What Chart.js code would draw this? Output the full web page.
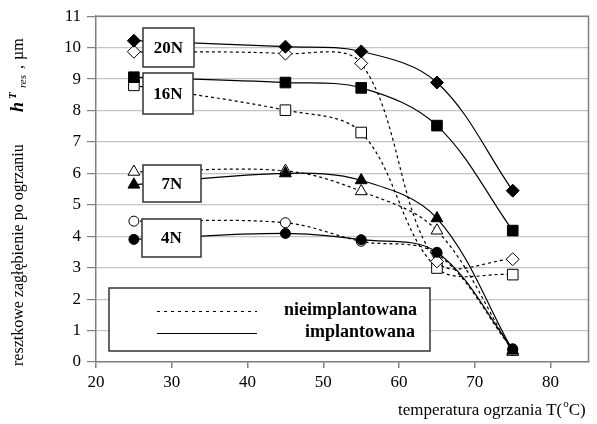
<!DOCTYPE html>
<html>
<head>
<meta charset="utf-8">
<script src="https://cdn.jsdelivr.net/npm/chart.js@4.4.1/dist/chart.umd.min.js"></script>
<style>
  html, body { margin: 0; padding: 0; background: #fff; }
  canvas { display: block; }
</style>
</head>
<body>
<canvas id="chart" width="597" height="424"></canvas>
<script>
// heating temperature, °C
const temperatures = [25, 45, 55, 65, 75];
const xTickValues = [20, 30, 40, 50, 60, 70, 80];
const yTickValues = [0, 1, 2, 3, 4, 5, 6, 7, 8, 9, 10, 11];

// residual depth after heating, µm — implanted samples (solid)
const impl20N = [10.22, 10.03, 9.88, 8.89, 5.45];
const impl16N = [9.06, 8.89, 8.72, 7.52, 4.18];
const impl7N = [5.64, 6.0, 5.78, 4.57, 0.36];
const impl4N = [3.9, 4.09, 3.89, 3.49, 0.42];

// non-implanted samples (dashed)
const nie20N = [9.87, 9.81, 9.5, 3.2, 3.27];
const nie16N = [8.8, 8.01, 7.3, 2.99, 2.78];
const nie7N = [6.05, 6.08, 5.43, 4.18, 0.32];
const nie4N = [4.48, 4.43, 3.84, 3.44, 0.38];

const loadLabels = ['20N', '16N', '7N', '4N'];
const legendLabels = ['nieimplantowana', 'implantowana'];

const SERIF = "'Liberation Serif', 'Times New Roman', serif";

const markers = {
  diamond: { pointStyle: 'rectRot', radius: 6.5 },
  square: { pointStyle: 'rect', radius: 7.5 },
  triangle: { pointStyle: 'triangle', radius: 6.8 },
  circle: { pointStyle: 'circle', radius: 5 }
};

function series(values, shape, implanted) {
  const m = markers[shape];
  return {
    data: temperatures.map((t, i) => ({ x: t, y: values[i] })),
    borderColor: '#000',
    borderWidth: 1.2,
    borderDash: implanted ? [] : [3, 3],
    tension: 0.35,
    pointStyle: m.pointStyle,
    pointRadius: m.radius,
    pointBorderWidth: 1,
    pointBorderColor: '#000',
    pointBackgroundColor: implanted ? '#000' : '#fff',
    fill: false
  };
}

// boxed load labels next to the first points
const labelBoxes = [
  { text: loadLabels[0], x: 143, y: 28, w: 51, h: 39 },
  { text: loadLabels[1], x: 143, y: 73, w: 50, h: 41 },
  { text: loadLabels[2], x: 143, y: 165, w: 58, h: 37 },
  { text: loadLabels[3], x: 142, y: 219, w: 59, h: 38 }
];

const decorations = {
  id: 'decorations',
  afterDatasetsDraw(chart) {
    const ctx = chart.ctx;
    const a = chart.chartArea;
    ctx.save();

    // frame around the plot
    ctx.strokeStyle = '#808080';
    ctx.lineWidth = 1.5;
    ctx.beginPath();
    ctx.moveTo(a.left, a.top);
    ctx.lineTo(a.right, a.top);
    ctx.lineTo(a.right, a.bottom);
    ctx.stroke();

    // label boxes
    ctx.font = 'bold 17px ' + SERIF;
    ctx.textAlign = 'center';
    ctx.textBaseline = 'middle';
    labelBoxes.forEach(b => {
      ctx.fillStyle = '#fff';
      ctx.fillRect(b.x, b.y, b.w, b.h);
      ctx.strokeStyle = '#333';
      ctx.lineWidth = 1.5;
      ctx.strokeRect(b.x, b.y, b.w, b.h);
      ctx.fillStyle = '#000';
      ctx.fillText(b.text, b.x + b.w / 2, b.y + b.h / 2 + 1);
    });

    // legend
    ctx.fillStyle = '#fff';
    ctx.fillRect(109, 288, 321, 63);
    ctx.strokeStyle = '#333';
    ctx.lineWidth = 1.5;
    ctx.strokeRect(109, 288, 321, 63);
    ctx.strokeStyle = '#000';
    ctx.lineWidth = 1.2;
    ctx.setLineDash([3, 4]);
    ctx.beginPath();
    ctx.moveTo(157, 311.5);
    ctx.lineTo(257, 311.5);
    ctx.stroke();
    ctx.setLineDash([]);
    ctx.beginPath();
    ctx.moveTo(157, 333.5);
    ctx.lineTo(257, 333.5);
    ctx.stroke();
    ctx.fillStyle = '#000';
    ctx.font = 'bold 18px ' + SERIF;
    ctx.textAlign = 'right';
    ctx.textBaseline = 'middle';
    ctx.fillText(legendLabels[0], 417, 310);
    ctx.fillText(legendLabels[1], 415, 332);

    ctx.restore();
  },
  afterDraw(chart) {
    const ctx = chart.ctx;
    ctx.save();
    ctx.fillStyle = '#000';
    ctx.textAlign = 'left';
    ctx.textBaseline = 'alphabetic';

    // y axis title, rotated
    ctx.save();
    ctx.translate(23, 366);
    ctx.rotate(-Math.PI / 2);
    ctx.font = '16px ' + SERIF;
    ctx.fillText('resztkowe zagłębienie po ogrzaniu', 0, 0);
    ctx.font = 'bold italic 18px ' + SERIF;
    ctx.fillText('h', 254, 0);
    ctx.font = 'bold italic 11px ' + SERIF;
    ctx.fillText('T', 267, -7);
    ctx.font = 'italic 11px ' + SERIF;
    ctx.fillText('res', 278, 3);
    ctx.font = '16px ' + SERIF;
    ctx.fillText(',', 297, 0);
    ctx.fillText('µm', 306, 0);
    ctx.restore();

    // x axis title
    ctx.font = '17px ' + SERIF;
    const main = 'temperatura ogrzania T(';
    ctx.fillText(main, 398, 415);
    let x = 398 + ctx.measureText(main).width;
    ctx.font = '11px ' + SERIF;
    ctx.fillText('o', x + 1, 407);
    x += ctx.measureText('o').width + 1;
    ctx.font = '17px ' + SERIF;
    ctx.fillText('C)', x, 415);

    ctx.restore();
  }
};

new Chart(document.getElementById('chart'), {
  type: 'line',
  data: {
    datasets: [
      series(impl20N, 'diamond', true),
      series(impl16N, 'square', true),
      series(impl7N, 'triangle', true),
      series(impl4N, 'circle', true),
      series(nie20N, 'diamond', false),
      series(nie16N, 'square', false),
      series(nie7N, 'triangle', false),
      series(nie4N, 'circle', false)
    ]
  },
  options: {
    responsive: false,
    animation: false,
    layout: { padding: { top: 16, right: 5, left: 0, bottom: 0 } },
    plugins: {
      legend: { display: false },
      tooltip: { enabled: false }
    },
    scales: {
      x: {
        type: 'linear',
        min: 20,
        max: 85,
        afterFit(scale) { scale.height = 62; },
        afterBuildTicks(scale) { scale.ticks = xTickValues.map(v => ({ value: v })); },
        ticks: {
          color: '#000',
          font: { family: SERIF, size: 17 },
          padding: 4,
          maxRotation: 0
        },
        grid: {
          drawOnChartArea: false,
          tickLength: 6,
          tickColor: '#808080',
          lineWidth: 1.5
        },
        border: { color: '#808080', width: 1.5 }
      },
      y: {
        min: 0,
        max: 11,
        afterFit(scale) { scale.width = 96; },
        afterBuildTicks(scale) { scale.ticks = yTickValues.map(v => ({ value: v })); },
        ticks: {
          color: '#000',
          font: { family: SERIF, size: 17 },
          padding: 6
        },
        grid: {
          color: '#c4c4c4',
          lineWidth: 1.2,
          tickLength: 9,
          tickColor: '#808080'
        },
        border: { color: '#808080', width: 1.5 }
      }
    }
  },
  plugins: [decorations]
});
</script>
</body>
</html>
